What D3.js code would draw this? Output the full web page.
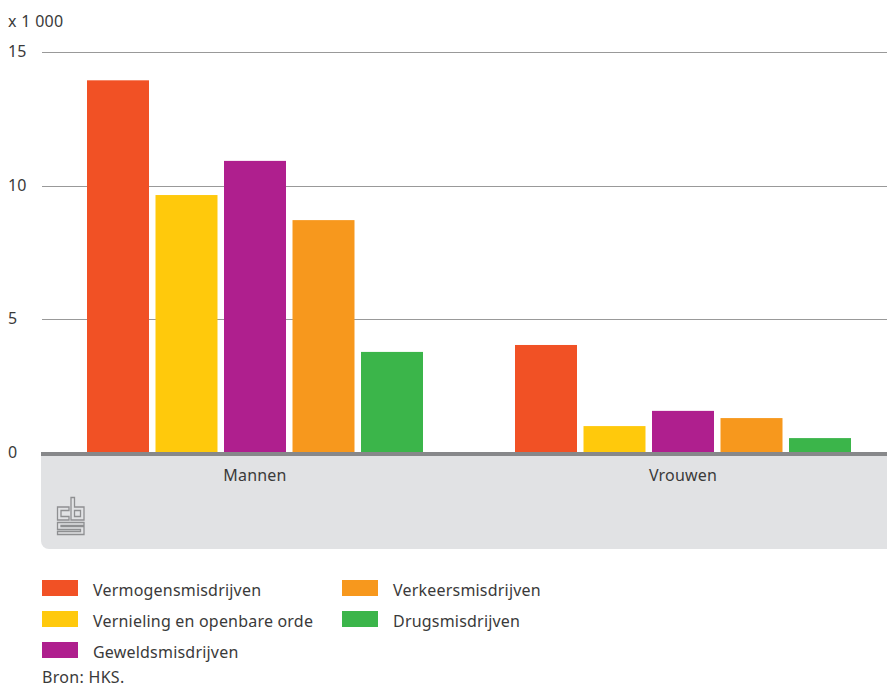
<!DOCTYPE html>
<html><head><meta charset="utf-8">
<script src="https://cdn.jsdelivr.net/npm/d3@7"></script>
<style>
html,body{margin:0;padding:0;background:#fff;}
svg{display:block;font-family:"Noto Sans",sans-serif;}
</style></head>
<body>
<svg id="chart" width="887" height="687"></svg>
<script>
const groups = ["Mannen", "Vrouwen"];
const series = ["Vermogensmisdrijven", "Vernieling en openbare orde", "Geweldsmisdrijven", "Verkeersmisdrijven", "Drugsmisdrijven"];
const colors = ["#f15125", "#ffc90c", "#af1f8e", "#f7981d", "#3bb54a"];
const mannen = [13.95, 9.65, 10.93, 8.71, 3.77];
const vrouwen = [4.03, 0.99, 1.56, 1.29, 0.54];
const yTicks = [0, 5, 10, 15];
const unitLabel = "x 1 000";
const source = "Bron: HKS.";

const values = {Mannen: mannen, Vrouwen: vrouwen};
const svg = d3.select("#chart");
const textColor = "#3a3a3a";

const y = d3.scaleLinear().domain([0, 15]).range([452.5, 52.3]);
const x0 = d3.scaleBand().domain(groups).range([42, 898]);
const x1 = d3.scaleBand().domain(series).range([45, 381]).paddingInner(0.095);

// grey panel below the axis
const px0 = 41, px1 = 887, py0 = 452, py1 = 549, r = 8;
svg.append("path")
  .attr("d", `M${px0},${py0}H${px1}V${py1}H${px0 + r}A${r},${r} 0 0 1 ${px0},${py1 - r}Z`)
  .attr("fill", "#e1e2e4");

// gridlines
svg.append("g").selectAll("line").data(yTicks.filter(d => d > 0)).join("line")
  .attr("x1", 42).attr("x2", 887)
  .attr("y1", d => Math.round(y(d)) + 0.5).attr("y2", d => Math.round(y(d)) + 0.5)
  .attr("stroke", "#999").attr("stroke-width", 1);

// tick labels
svg.append("g").selectAll("text").data(yTicks).join("text")
  .attr("x", 8).attr("y", d => y(d) + 5)
  .attr("font-size", 16).attr("fill", textColor)
  .text(d => d);

svg.append("text").attr("x", 8).attr("y", 27).attr("font-size", 16)
  .attr("letter-spacing", 0.3)
  .attr("fill", textColor).text(unitLabel);

// bars
const gg = svg.append("g").selectAll("g").data(groups).join("g")
  .attr("transform", d => `translate(${x0(d)},0)`);
gg.selectAll("rect").data(g => series.map((s, i) => ({s, i, v: values[g][i]}))).join("rect")
  .attr("x", d => x1(d.s))
  .attr("width", x1.bandwidth())
  .attr("y", d => y(d.v))
  .attr("height", d => y(0) - y(d.v))
  .attr("fill", d => colors[d.i]);

// axis line
svg.append("rect").attr("x", 41).attr("y", 452).attr("width", 846).attr("height", 4).attr("fill", "#87888a");

// category labels
svg.append("g").selectAll("text").data(groups).join("text")
  .attr("x", d => x0(d) + x0.bandwidth() / 2 - 1)
  .attr("y", 481)
  .attr("text-anchor", "middle")
  .attr("font-size", 16).attr("fill", textColor)
  .attr("letter-spacing", 0.2)
  .text(d => d);

// cbs logo
const logo = svg.append("g").attr("transform", "translate(57,497)")
  .attr("fill", "none").attr("stroke-linejoin", "miter");
const logoPaths = [
  "M12,10H0.5V23H12V19.5H4V13.5H12Z",
  "M14,0.5H17.5V10H27V23H14Z M17.5,13.5V19.5H23.5V13.5Z",
  "M27,25.5H0.5V32.5H23.5V34.5H0.5V37.5H27V29.5H4V28.5H27Z"
];
logo.selectAll("path").data(logoPaths).join("path")
  .attr("d", d => d)
  .attr("stroke", "#8e8f91").attr("stroke-width", 1.3)
  .attr("fill-rule", "evenodd");

// legend
const legendPos = [
  [42, 580], [42, 611], [42, 642], [342, 580], [342, 611]
];
const lg = svg.append("g").selectAll("g").data(series).join("g")
  .attr("transform", (d, i) => `translate(${legendPos[i][0]},${legendPos[i][1]})`);
lg.append("rect").attr("width", 36).attr("height", 16).attr("fill", (d, i) => colors[i]);
lg.append("text").attr("x", 51).attr("y", 15.5).attr("font-size", 16)
  .attr("letter-spacing", 0.2)
  .attr("fill", textColor).text(d => d);

svg.append("text").attr("x", 42).attr("y", 683).attr("font-size", 16)
  .attr("letter-spacing", 0.3)
  .attr("fill", textColor).text(source);
</script>
</body></html>
